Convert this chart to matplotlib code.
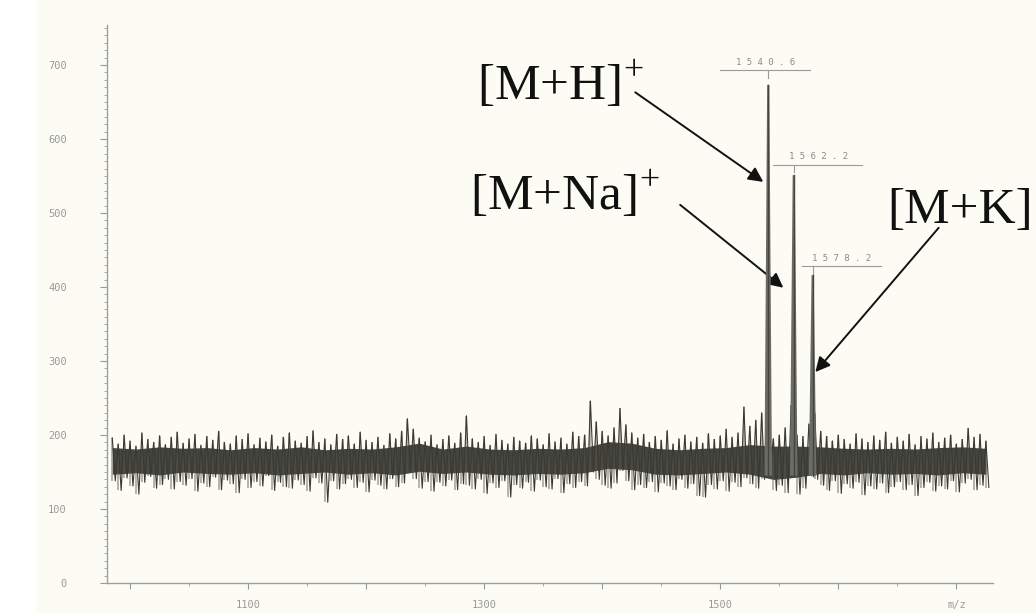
"""
MALDI spectrum with [M+H]+, [M+Na]+ and [M+K]+ peaks
"""

import numpy as np
import matplotlib.pyplot as plt
from matplotlib.patches import Rectangle

plt.rcParams["mathtext.fontset"] = "custom"
plt.rcParams["mathtext.rm"] = "Liberation Serif"

# noise trace, sampled every 5 m/z from 985 to 1725
noise_start, noise_step = 985, 5
noise_hi = [
    196, 188, 200, 192, 185, 203, 194, 190, 199, 187,
    197, 204, 189, 195, 201, 186, 198, 193, 205, 190,
    188, 199, 194, 202, 187, 196, 191, 200, 185, 197,
    203, 192, 189, 198, 206, 190, 195, 187, 201, 194,
    199, 188, 204, 193, 190, 197, 186, 202, 195, 205,
    222, 208, 196, 191, 200, 187, 194, 199, 189, 203,
    226, 195, 190, 198, 186, 201, 193, 188, 197, 192,
    189, 199, 195, 187, 202, 191, 196, 188, 204, 198,
    200, 246, 218, 205, 199, 210, 236, 214, 203, 196,
    201, 190, 198, 193, 206, 188, 195, 200, 191, 197,
    189, 202, 194, 199, 208, 197, 203, 238, 212, 220,
    230, 255, 195, 200, 210, 240, 200, 198, 215, 230,
    205, 198, 192, 200, 194, 188, 202, 195, 190, 199,
    193, 204, 189, 197, 192, 201, 187, 198, 195, 203,
    190, 196, 200, 188, 194, 209, 197, 201, 192,
]
noise_lo = [
    138, 125, 142, 131, 120, 136, 144, 128, 133, 140,
    127, 137, 132, 141, 124, 135, 130, 143, 126, 139,
    134, 122, 140, 129, 137, 131, 145, 125, 136, 130,
    128, 139, 133, 124, 142, 135, 109, 138, 127, 134,
    140, 129, 136, 123, 139, 132, 127, 141, 130, 135,
    150, 141, 128, 137, 124, 136, 131, 139, 126, 134,
    132, 127, 140, 121, 135, 129, 138, 116, 133, 128,
    136, 124, 139, 130, 127, 141, 122, 134, 129, 137,
    131, 150, 140, 132, 128, 135, 152, 138, 126, 133,
    129, 137, 123, 135, 131, 126, 140, 128, 134, 118,
    116, 133, 127, 138, 124, 136, 130, 142, 134, 128,
    140, 160, 125, 132, 122, 150, 120, 128, 145, 140,
    132, 125, 138, 121, 134, 128, 136, 119, 131, 127,
    135, 122, 130, 137, 126, 133, 118, 129, 136, 124,
    131, 127, 138, 123, 135, 140, 126, 132, 129,
]

# dense core of the baseline, every 20 m/z
core_start, core_step = 985, 20
core_hi = [
    183, 181, 184, 182, 183, 180, 183, 181, 184, 180,
    182, 181, 184, 189, 181, 185, 181, 180, 182, 181,
    183, 191, 189, 182, 180, 182, 183, 187, 185, 185,
    184, 182, 181, 182, 181, 183, 184, 182,
]
core_lo = [
    147, 149, 146, 150, 148, 147, 149, 146, 148, 150,
    147, 149, 146, 151, 148, 150, 147, 146, 148, 147,
    149, 155, 153, 147, 146, 148, 150, 147, 140, 143,
    148, 146, 149, 147, 148, 146, 149, 147,
]

# main peaks
peak_mz = [1540.6, 1562.2, 1578.2]
peak_height = [673, 551, 416]
peak_labels = ["1 5 4 0 . 6", "1 5 6 2 . 2", "1 5 7 8 . 2"]

x_ticklabels = {1100: "1100", 1300: "1300", 1500: "1500", 1700: "m/z"}

fig = plt.figure(figsize=(10.36, 6.13), dpi=100)
fig.patch.set_facecolor("#fcfcf4")
fig.patches.append(Rectangle((0, 0), 0.034, 1, transform=fig.transFigure,
                             color="white", zorder=0))
ax = fig.add_axes([107 / 1036, 1 - 583 / 613, 886 / 1036, 558 / 613])
ax.set_facecolor("none")

# baseline noise
nx = noise_start + noise_step * np.arange(len(noise_hi))
trace_x = np.ravel(np.column_stack([nx, nx + noise_step / 2]))
trace_y = np.ravel(np.column_stack([noise_hi, noise_lo]))
cx = core_start + core_step * np.arange(len(core_hi))
ax.fill_between(cx, core_lo, core_hi, color="#30302a", alpha=0.9, lw=0, zorder=2)
ax.vlines(nx, noise_lo, noise_hi, color="#55554d", lw=1.1, alpha=0.55, zorder=3)
ax.plot(trace_x, trace_y, color="#3a3a33", lw=0.8, zorder=3)

# peaks
for c, h in zip(peak_mz, peak_height):
    ax.fill([c - 3.2, c - 0.9, c + 0.9, c + 3.2], [145, h, h, 145],
            color="#6c6c66", lw=0, zorder=4)
    ax.plot([c, c], [145, h], color="#45453f", lw=1.0, zorder=5)

# peak labels with underline and tick
label_pos = [(1538, 704, 1500, 1576), (1583, 576, 1545, 1620), (1602.5, 439, 1569.5, 1636)]
for (tx, ty, u0, u1), lab, c, h in zip(label_pos, peak_labels, peak_mz, peak_height):
    ax.text(tx, ty, lab, fontsize=6.5, color="#8a8a8a", ha="center", va="center",
            family="DejaVu Sans Mono")
    ax.plot([u0, u1], [ty - 11, ty - 11], color="#9a9a9a", lw=0.8)
    ax.plot([c, c], [ty - 11, ty - 21], color="#9a9a9a", lw=0.8)

# ion annotations ([M+K] runs off the right edge in the original)
ions = ["[M+H]$^{+}$", "[M+Na]$^{+}$", "[M+K]"]
ion_text = [(1294, 653), (1288, 504), (1641.5, 486)]
arrow_tail = [(1428, 663), (1466, 511), (1685, 480)]
arrow_tip = [(1536.4, 542), (1553.4, 399), (1580.5, 285)]
for lab, tp, tail, tip in zip(ions, ion_text, arrow_tail, arrow_tip):
    ax.text(tp[0], tp[1], lab, fontsize=37, family="Liberation Serif",
            color="#111111", va="baseline", ha="left", clip_on=False)
    ax.annotate("", xy=tip, xytext=tail,
                arrowprops=dict(arrowstyle="-|>", color="#111111", lw=1.4,
                                mutation_scale=22, shrinkA=0, shrinkB=0))

ax.set_xlim(980.5, 1731)
ax.set_ylim(0, 754)
for s in ["top", "right"]:
    ax.spines[s].set_visible(False)
for s in ["left", "bottom"]:
    ax.spines[s].set_color("#a0a0a0")
    ax.spines[s].set_linewidth(1.0)

ax.set_xticks(np.arange(1000, 1701, 100))
ax.set_xticks(np.arange(1050, 1701, 100), minor=True)
ax.set_xticklabels([x_ticklabels.get(int(v), "") for v in ax.get_xticks()])
ax.set_yticks(np.arange(0, 701, 100))
ax.set_yticks(np.arange(0, 751, 10), minor=True)
ax.tick_params(axis="both", which="both", colors="#9a9a9a", labelcolor="#999999",
               labelsize=7.5, direction="out")
ax.tick_params(axis="x", which="major", length=4, pad=8)
ax.tick_params(axis="x", which="minor", length=2)
ax.tick_params(axis="y", which="major", length=5, pad=24)
ax.tick_params(axis="y", which="minor", length=2.5, width=0.6)
for lbl in ax.get_xticklabels() + ax.get_yticklabels():
    lbl.set_family("DejaVu Sans Mono")

plt.savefig("out.png", dpi=100, facecolor=fig.get_facecolor())
